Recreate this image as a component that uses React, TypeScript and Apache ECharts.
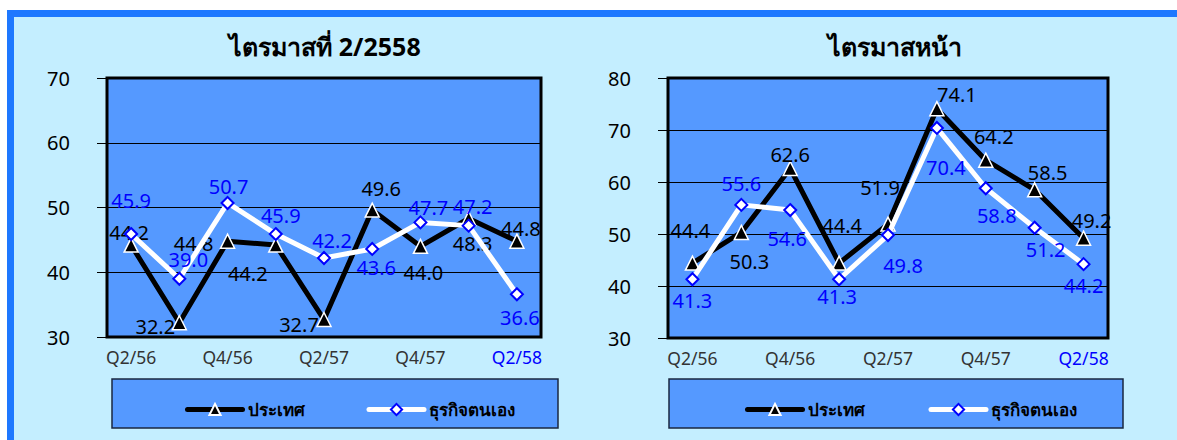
import React, { useEffect, useRef } from "react";
import * as echarts from "echarts";

const categories = ["Q2/56", "Q3/56", "Q4/56", "Q1/57", "Q2/57", "Q3/57", "Q4/57", "Q1/58", "Q2/58"];
const seriesNames = ["ประเทศ", "ธุรกิจตนเอง"];
const leftTitle = "ไตรมาสที่ 2/2558";
const rightTitle = "ไตรมาสหน้า";

const leftCountry = [44.2, 32.2, 44.8, 44.2, 32.7, 49.6, 44.0, 48.3, 44.8];
const leftOwn = [45.9, 39.0, 50.7, 45.9, 42.2, 43.6, 47.7, 47.2, 36.6];
const rightCountry = [44.4, 50.3, 62.6, 44.4, 51.9, 74.1, 64.2, 58.5, 49.2];
const rightOwn = [41.3, 55.6, 54.6, 41.3, 49.8, 70.4, 58.8, 51.2, 44.2];

// label offsets (style only)
const leftCountryOff = [[-2, -13], [-24, 4], [-34, 2], [-28, 28], [-25, 5], [9, -22], [3, 26], [4, 25], [4, -13]];
const leftOwnOff = [[0, -34], [9, -19], [1, -16], [5, -19], [8, -18], [4, 19], [8, -15], [4, -19], [3, 23]];
const rightCountryOff = [[-2, -33], [8, 29], [0, -14], [3, -38], [-8, -37], [20, -14], [8, -24], [13, -17], [8, -18]];
const rightOwnOff = [[0, 21], [0, -21], [-3, 28], [-2, 17], [15, 30], [9, 40], [11, 27], [11, 22], [0, 21]];

const FONT = "Tahoma, 'Noto Sans', sans-serif";

function mkSeries(name: string, vals: number[], offs: number[][], idx: number, black: boolean) {
  return {
    name,
    type: "line",
    xAxisIndex: idx,
    yAxisIndex: idx,
    z: black ? 2 : 3,
    symbol: black ? "triangle" : "diamond",
    symbolSize: black ? 14 : 12,
    lineStyle: { color: black ? "#000000" : "#ffffff", width: 5 },
    itemStyle: black
      ? { color: "#000000", borderColor: "#ffffff", borderWidth: 1.5 }
      : { color: "#ffffff", borderColor: "#0000ff", borderWidth: 2 },
    label: {
      show: true,
      position: "inside",
      fontSize: 20,
      fontFamily: FONT,
      color: black ? "#000000" : "#0000ff",
      formatter: (p: any) => Number(p.value).toFixed(1),
    },
    data: vals.map((v, i) => ({ value: v, label: { offset: offs[i] } })),
  };
}

export default function App() {
  const ref = useRef<HTMLDivElement>(null);
  useEffect(() => {
    if (!ref.current) return;
    const chart = echarts.init(ref.current, undefined, { renderer: "svg" });
    const xData = categories.map((c, i) =>
      i === categories.length - 1 ? { value: c, textStyle: { color: "#0000ff" } } : c
    );
    const xAxisBase = (gi: number) => ({
      type: "category",
      gridIndex: gi,
      data: xData,
      boundaryGap: true,
      axisLine: { show: false },
      axisTick: { show: false },
      axisLabel: { interval: 1, fontSize: 17.5, color: "#333333", fontFamily: FONT, margin: 11 },
    });
    const yAxisBase = (gi: number, max: number) => ({
      type: "value",
      gridIndex: gi,
      min: 30,
      max,
      interval: 10,
      axisLine: { show: false },
      axisTick: { show: true, length: 10, lineStyle: { color: "#000", width: 1 } },
      axisLabel: { fontSize: 20, color: "#000", fontFamily: FONT, margin: 37 },
      splitLine: { show: true, lineStyle: { color: "#000", width: 1 } },
    });
    const legendBase = (left: number, gap: number) => ({
      left,
      top: 396,
      itemWidth: 55,
      itemHeight: 14,
      itemGap: gap,
      data: seriesNames,
      lineStyle: { width: 5, cap: "round" },
      textStyle: { fontSize: 17, fontWeight: "bold", color: "#000", fontFamily: FONT },
    });
    chart.setOption({
      animation: false,
      backgroundColor: "#ffffff",
      graphic: [
        { type: "rect", z: -10, shape: { x: 7, y: 10, width: 1170, height: 430 }, style: { fill: "#1E78FF" } },
        { type: "rect", z: -9, shape: { x: 14, y: 17, width: 1163, height: 423 }, style: { fill: "#C4EEFF" } },
        { type: "rect", z: -8, shape: { x: 112, y: 379, width: 446, height: 49 }, style: { fill: "#5599FF", stroke: "#1a2740", lineWidth: 1.5 } },
        { type: "rect", z: -8, shape: { x: 669, y: 379, width: 454, height: 49 }, style: { fill: "#5599FF", stroke: "#1a2740", lineWidth: 1.5 } },
      ],
      title: [
        { text: leftTitle, left: 320, top: 28, textAlign: "center", textStyle: { fontSize: 25, fontWeight: "bold", color: "#000", fontFamily: FONT } },
        { text: rightTitle, left: 890, top: 28, textAlign: "center", textStyle: { fontSize: 25, fontWeight: "bold", color: "#000", fontFamily: FONT } },
      ],
      legend: [legendBase(180, 62), legendBase(740, 64)],
      grid: [
        { left: 107, top: 78, width: 434, height: 259, show: true, backgroundColor: "#5599FF", borderColor: "#000", borderWidth: 3 },
        { left: 668, top: 78, width: 440, height: 260, show: true, backgroundColor: "#5599FF", borderColor: "#000", borderWidth: 3 },
      ],
      xAxis: [xAxisBase(0), xAxisBase(1)],
      yAxis: [yAxisBase(0, 70), yAxisBase(1, 80)],
      series: [
        mkSeries(seriesNames[0], leftCountry, leftCountryOff, 0, true),
        mkSeries(seriesNames[1], leftOwn, leftOwnOff, 0, false),
        mkSeries(seriesNames[0], rightCountry, rightCountryOff, 1, true),
        mkSeries(seriesNames[1], rightOwn, rightOwnOff, 1, false),
      ],
    });
    return () => chart.dispose();
  }, []);
  return <div ref={ref} style={{ position: "absolute", left: 0, top: 0, width: 1177, height: 440 }} />;
}
